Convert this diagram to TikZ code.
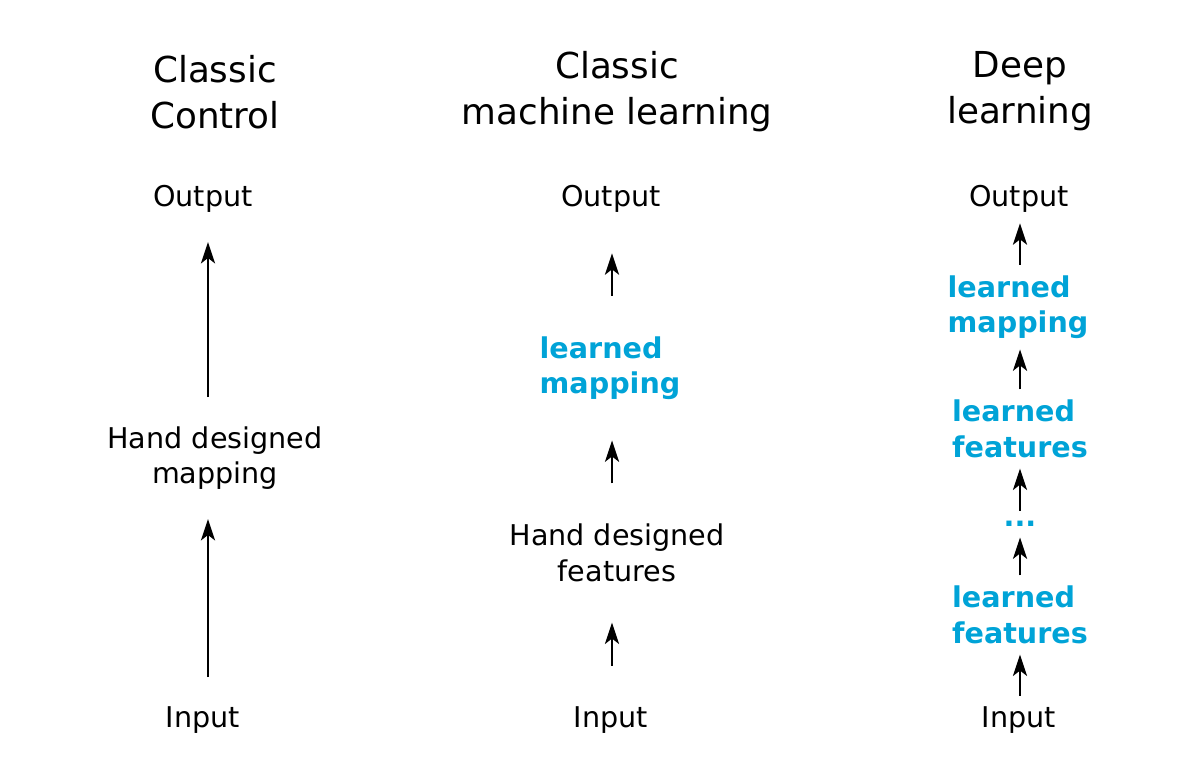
\documentclass[tikz,border=0pt]{standalone}
\usepackage{fontspec}
\setmainfont{DejaVu Sans}
\usetikzlibrary{arrows.meta}
\definecolor{learnblue}{HTML}{00A3D7}

\begin{document}
\begin{tikzpicture}[
	x = 0.75pt, y = -0.75pt, % pixel grid, y downwards
	> = {Stealth[length=16pt,width=10.5pt,inset=4pt]}, % arrow head style
	line width = 2.1pt, % line style
	font = \fontsize{21.45pt}{26.6pt}\selectfont,
	heading/.style = {align=center, font=\fontsize{26.8pt}{34.3pt}\selectfont},
	plain/.style = {align=center, inner sep=0pt},
	learned/.style = {align=left, inner sep=0pt, text=learnblue, font=\fontsize{21.45pt}{26.6pt}\selectfont\bfseries},
	link/.style = {->, shorten <=#1, shorten >=#1} % gap to the nodes
	]
	
	\useasboundingbox (0,0) rectangle (1187,776);
	
	% column axes
	\coordinate (c1) at (208,0);
	\coordinate (c2) at (612,0);
	\coordinate (c3) at (1020,0);
	
	\node[heading] (t1) at (215,92.5) {Classic\\Control};
	\node[heading] (t2) at (617,91.5) {Classic\\machine learning};
	\node[heading] (t3) at (1020,91.5) {Deep\\learning};
	
	% classic control
	\node[plain] (out1) at (203,199) {Output};
	\node[plain] (map1) at (215,458) {Hand designed\\mapping};
	\node[plain] (in1) at (203,720) {Input};
	
	% classic machine learning
	\node[plain] (out2) at (611,199) {Output};
	\node[learned] (map2) at (610,368) {learned\\mapping};
	\node[plain] (feat2) at (617,553) {Hand designed\\features};
	\node[plain] (in2) at (611,720) {Input};
	
	% deep learning
	\node[plain] (out3) at (1019,199) {Output};
	\node[learned] (map3) at (1018,307) {learned\\mapping};
	\node[learned] (feat3b) at (1020,429) {learned\\features};
	\node[learned] (dots3) at (1020,524) {...};
	\node[learned] (feat3a) at (1020,615) {learned\\features};
	\node[plain] (in3) at (1019,720) {Input};
	
	\draw[link=21pt] (c1 |- in1.north) -- (c1 |- map1.south);
	\draw[link=21pt] (c1 |- map1.north) -- (c1 |- out1.south);
	
	\draw[link=29.5pt] (c2 |- in2.north) -- (c2 |- feat2.south);
	\draw[link=29.5pt] (c2 |- feat2.north) -- (c2 |- map2.south);
	\draw[link=29.5pt] (c2 |- map2.north) -- (c2 |- out2.south);
	
	\draw[link=7pt] (c3 |- in3.north) -- (c3 |- feat3a.south);
	\draw[link=7pt] (c3 |- feat3a.north) -- (c3 |- dots3.south);
	\draw[link=7pt] (c3 |- dots3.north) -- (c3 |- feat3b.south);
	\draw[link=7pt] (c3 |- feat3b.north) -- (c3 |- map3.south);
	\draw[link=7pt] (c3 |- map3.north) -- (c3 |- out3.south);
\end{tikzpicture}
\end{document}
